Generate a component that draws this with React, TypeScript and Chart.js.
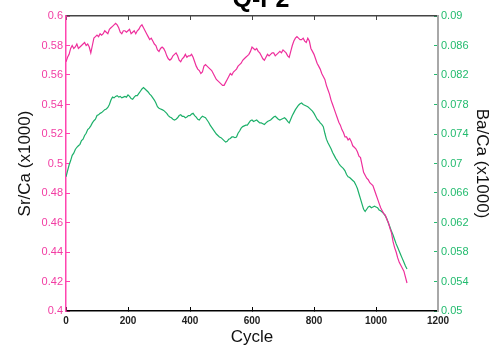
import React, { useEffect, useRef } from 'react';
import { Chart, registerables } from 'chart.js';

Chart.register(...registerables);

const cycles = [
  0, 5, 10, 15, 20, 25, 30, 35, 40, 45, 50, 55, 60, 65, 70, 75, 80, 85, 90, 95,
  100, 105, 110, 115, 120, 125, 130, 135, 140, 145, 150, 155, 160, 165, 170, 175, 180, 185, 190, 195,
  200, 205, 210, 215, 220, 225, 230, 235, 240, 245, 250, 255, 260, 265, 270, 275, 280, 285, 290, 295,
  300, 305, 310, 315, 320, 325, 330, 335, 340, 345, 350, 355, 360, 365, 370, 375, 380, 385, 390, 395,
  400, 405, 410, 415, 420, 425, 430, 435, 440, 445, 450, 455, 460, 465, 470, 475, 480, 485, 490, 495,
  500, 505, 510, 515, 520, 525, 530, 535, 540, 545, 550, 555, 560, 565, 570, 575, 580, 585, 590, 595,
  600, 605, 610, 615, 620, 625, 630, 635, 640, 645, 650, 655, 660, 665, 670, 675, 680, 685, 690, 695,
  700, 705, 710, 715, 720, 725, 730, 735, 740, 745, 750, 755, 760, 765, 770, 775, 780, 785, 790, 795,
  800, 805, 810, 815, 820, 825, 830, 835, 840, 845, 850, 855, 860, 865, 870, 875, 880, 885, 890, 895,
  900, 905, 910, 915, 920, 925, 930, 935, 940, 945, 950, 955, 960, 965, 970, 975, 980, 985, 990, 995,
  1000, 1005, 1010, 1015, 1020, 1025, 1030, 1035, 1040, 1045, 1050, 1055, 1060, 1065, 1070, 1075, 1080, 1085, 1090, 1095,
  1100,
];

const srCa = [
  0.569, 0.572, 0.574, 0.578, 0.580, 0.578, 0.579, 0.581, 0.578, 0.579, 0.580, 0.581, 0.582, 0.580, 0.581, 0.579, 0.575, 0.580, 0.585, 0.586,
  0.587, 0.586, 0.588, 0.587, 0.588, 0.590, 0.589, 0.588, 0.591, 0.592, 0.593, 0.594, 0.595, 0.594, 0.592, 0.589, 0.588, 0.590, 0.590, 0.589,
  0.590, 0.591, 0.588, 0.589, 0.590, 0.588, 0.590, 0.591, 0.593, 0.594, 0.592, 0.590, 0.588, 0.586, 0.584, 0.585, 0.583, 0.581, 0.580, 0.577,
  0.576, 0.578, 0.579, 0.578, 0.576, 0.573, 0.571, 0.570, 0.571, 0.573, 0.574, 0.575, 0.573, 0.570, 0.569, 0.571, 0.572, 0.574, 0.572, 0.573,
  0.573, 0.574, 0.572, 0.569, 0.566, 0.564, 0.563, 0.561, 0.562, 0.566, 0.567, 0.566, 0.565, 0.564, 0.563, 0.561, 0.559, 0.557, 0.556, 0.555,
  0.554, 0.553, 0.553, 0.555, 0.557, 0.559, 0.561, 0.560, 0.562, 0.563, 0.564, 0.566, 0.567, 0.568, 0.570, 0.571, 0.572, 0.573, 0.574, 0.576,
  0.579, 0.578, 0.577, 0.578, 0.576, 0.575, 0.573, 0.571, 0.570, 0.572, 0.574, 0.573, 0.574, 0.575, 0.575, 0.573, 0.574, 0.575, 0.576, 0.575,
  0.577, 0.576, 0.575, 0.573, 0.572, 0.576, 0.580, 0.583, 0.585, 0.586, 0.585, 0.584, 0.584, 0.585, 0.583, 0.582, 0.585, 0.583, 0.578, 0.576,
  0.574, 0.571, 0.568, 0.566, 0.564, 0.561, 0.559, 0.557, 0.553, 0.550, 0.547, 0.543, 0.540, 0.537, 0.534, 0.531, 0.528, 0.526, 0.523, 0.521,
  0.518, 0.518, 0.516, 0.517, 0.515, 0.512, 0.511, 0.510, 0.508, 0.505, 0.504, 0.499, 0.494, 0.492, 0.490, 0.489, 0.487, 0.486, 0.485, 0.482,
  0.479, 0.476, 0.473, 0.470, 0.468, 0.466, 0.465, 0.462, 0.460, 0.456, 0.453, 0.447, 0.443, 0.440, 0.436, 0.433, 0.431, 0.429, 0.427, 0.423,
  0.419,
];

const baCa = [
  0.0682, 0.0690, 0.0698, 0.0704, 0.0711, 0.0714, 0.0719, 0.0722, 0.0724, 0.0726, 0.0731, 0.0733, 0.0738, 0.0741, 0.0746, 0.0748, 0.0751, 0.0755, 0.0758, 0.0760,
  0.0765, 0.0766, 0.0768, 0.0769, 0.0771, 0.0773, 0.0774, 0.0776, 0.0780, 0.0786, 0.0790, 0.0789, 0.0791, 0.0792, 0.0790, 0.0791, 0.0789, 0.0790, 0.0791, 0.0790,
  0.0793, 0.0791, 0.0788, 0.0787, 0.0790, 0.0792, 0.0792, 0.0795, 0.0798, 0.0801, 0.0803, 0.0801, 0.0799, 0.0797, 0.0794, 0.0792, 0.0789, 0.0786, 0.0782, 0.0777,
  0.0775, 0.0774, 0.0773, 0.0772, 0.0770, 0.0768, 0.0765, 0.0763, 0.0762, 0.0760, 0.0759, 0.0760, 0.0762, 0.0765, 0.0766, 0.0764, 0.0764, 0.0762, 0.0763, 0.0765,
  0.0765, 0.0767, 0.0768, 0.0765, 0.0763, 0.0760, 0.0759, 0.0762, 0.0764, 0.0763, 0.0762, 0.0759, 0.0756, 0.0752, 0.0749, 0.0746, 0.0743, 0.0740, 0.0738, 0.0736,
  0.0735, 0.0733, 0.0731, 0.0729, 0.0730, 0.0733, 0.0734, 0.0736, 0.0736, 0.0735, 0.0736, 0.0741, 0.0744, 0.0748, 0.0750, 0.0751, 0.0752, 0.0752, 0.0755, 0.0758,
  0.0759, 0.0757, 0.0758, 0.0759, 0.0757, 0.0755, 0.0755, 0.0754, 0.0753, 0.0755, 0.0757, 0.0758, 0.0759, 0.0761, 0.0763, 0.0764, 0.0762, 0.0760, 0.0759, 0.0760,
  0.0761, 0.0762, 0.0760, 0.0757, 0.0755, 0.0760, 0.0765, 0.0769, 0.0773, 0.0776, 0.0779, 0.0781, 0.0782, 0.0780, 0.0779, 0.0778, 0.0777, 0.0775, 0.0773, 0.0771,
  0.0768, 0.0764, 0.0760, 0.0758, 0.0755, 0.0753, 0.0750, 0.0741, 0.0733, 0.0728, 0.0724, 0.0720, 0.0715, 0.0711, 0.0707, 0.0704, 0.0700, 0.0697, 0.0695, 0.0693,
  0.0690, 0.0685, 0.0682, 0.0681, 0.0679, 0.0677, 0.0675, 0.0671, 0.0666, 0.0659, 0.0652, 0.0645, 0.0638, 0.0635, 0.0638, 0.0641, 0.0642, 0.0640, 0.0641, 0.0642,
  0.0641, 0.0640, 0.0637, 0.0636, 0.0634, 0.0632, 0.0629, 0.0625, 0.0619, 0.0614, 0.0608, 0.0603, 0.0597, 0.0591, 0.0586, 0.0581, 0.0576, 0.0571, 0.0566, 0.0561,
  0.0557,
];

const cycleTicks = [0, 200, 400, 600, 800, 1000, 1200];
const srTicks = [0.4, 0.42, 0.44, 0.46, 0.48, 0.5, 0.52, 0.54, 0.56, 0.58, 0.6];
const baTicks = [0.05, 0.054, 0.058, 0.062, 0.066, 0.07, 0.074, 0.078, 0.082, 0.086, 0.09];

const chartTitle = 'Q-F2';
const xTitle = 'Cycle';
const yTitle = 'Sr/Ca (x1000)';
const y2Title = 'Ba/Ca (x1000)';

const FONT = '"Liberation Sans", Arial, Helvetica, sans-serif';
const MAGENTA = '#ee2f9c';
const GREEN = '#1db06a';

const setTicks = (arr: number[]) => (scale: any) => {
  scale.ticks = arr.map((v) => ({ value: v }));
};

export default function App() {
  const ref = useRef<HTMLCanvasElement | null>(null);

  useEffect(() => {
    if (!ref.current) return;
    const titlePlugin = {
      id: 'qtitle',
      afterDraw(chart: any) {
        const ctx = chart.ctx;
        ctx.save();
        ctx.font = `bold 25px ${FONT}`;
        ctx.fillStyle = '#000';
        ctx.textAlign = 'center';
        ctx.textBaseline = 'alphabetic';
        ctx.fillText(chartTitle, chart.chartArea.left + 195, 7);
        ctx.restore();
      },
    };
    const chart = new Chart(ref.current, {
      type: 'line',
      data: {
        datasets: [
          {
            label: 'Sr/Ca',
            data: cycles.map((c, i) => ({ x: c, y: srCa[i] })),
            borderColor: MAGENTA,
            borderWidth: 1.2,
            pointRadius: 0,
            tension: 0,
            xAxisID: 'x',
            yAxisID: 'y',
          },
          {
            label: 'Ba/Ca',
            data: cycles.map((c, i) => ({ x: c, y: baCa[i] })),
            borderColor: GREEN,
            borderWidth: 1.2,
            pointRadius: 0,
            tension: 0,
            xAxisID: 'x',
            yAxisID: 'y2',
          },
        ],
      },
      options: {
        animation: false,
        responsive: false,
        layout: { padding: { top: 16, left: 0, right: 0, bottom: 0 } },
        plugins: {
          legend: { display: false },
          title: { display: false },
          tooltip: { enabled: false },
        },
        scales: {
          x: {
            type: 'linear',
            position: 'bottom',
            min: 0,
            max: 1200,
            afterBuildTicks: setTicks(cycleTicks),
            afterFit: (s: any) => { s.height = 39; },
            border: { color: '#000', width: 1.5 },
            grid: { drawOnChartArea: false, tickLength: -4, color: '#000', lineWidth: 1 },
            ticks: {
              color: '#222',
              font: { family: FONT, size: 10, weight: 'bold' },
              padding: 8,
              callback: (v: any) => String(v),
            },
            title: {
              display: true,
              text: xTitle,
              color: '#111',
              font: { family: FONT, size: 17 },
              padding: { top: 0, bottom: 2 },
            },
          },
          x2: {
            type: 'linear',
            position: 'top',
            min: 0,
            max: 1200,
            afterBuildTicks: setTicks(cycleTicks),
            afterFit: (s: any) => { s.height = 0; },
            border: { color: '#444', width: 1.5 },
            grid: { drawOnChartArea: false, tickLength: -4, color: '#444', lineWidth: 1 },
            ticks: { display: false },
          },
          y: {
            type: 'linear',
            position: 'left',
            min: 0.4,
            max: 0.6,
            afterBuildTicks: setTicks(srTicks),
            afterFit: (s: any) => { s.width = 66; },
            border: { color: '#ff45b0', width: 1.5 },
            grid: { drawOnChartArea: false, tickLength: -4, color: '#ff45b0', lineWidth: 1 },
            ticks: {
              color: '#f23da3',
              font: { family: FONT, size: 11 },
              padding: 7,
              callback: (v: any) => String(v),
            },
            title: {
              display: true,
              text: yTitle,
              color: '#111',
              font: { family: FONT, size: 17 },
              padding: { top: 15, bottom: 0 },
            },
          },
          y2: {
            type: 'linear',
            position: 'right',
            min: 0.05,
            max: 0.09,
            afterBuildTicks: setTicks(baTicks),
            afterFit: (s: any) => { s.width = 59; },
            border: { color: '#a8a8a8', width: 2 },
            grid: { drawOnChartArea: false, tickLength: -4, color: '#22bb6e', lineWidth: 1 },
            ticks: {
              color: '#22bb6e',
              font: { family: FONT, size: 11 },
              padding: 7,
              callback: (v: any) => String(v),
            },
            title: {
              display: true,
              text: y2Title,
              color: '#111',
              font: { family: FONT, size: 17 },
              padding: { top: 5, bottom: 0 },
            },
          },
        },
      },
      plugins: [titlePlugin],
    } as any);
    return () => chart.destroy();
  }, []);

  return (
    <div style={{ position: 'absolute', left: 0, top: 0, width: 497, height: 350 }}>
      <canvas ref={ref} width={497} height={350} style={{ display: 'block' }} />
    </div>
  );
}
